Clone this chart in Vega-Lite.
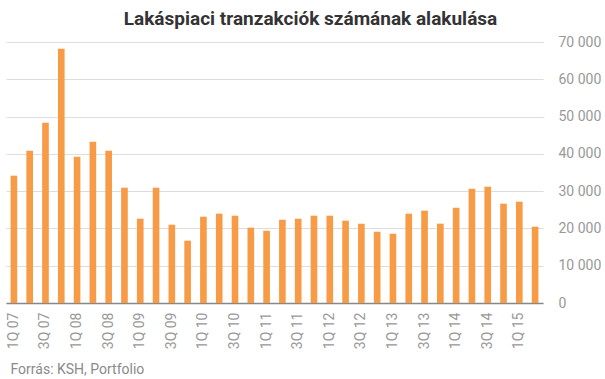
{
  "$schema": "https://vega.github.io/schema/vega-lite/v6.json",
  "width": 537,
  "height": 261,
  "autosize": "none",
  "padding": {"left": 6, "top": 42, "right": 62, "bottom": 76},
  "background": "white",
  "config": {"view": {"stroke": null}, "font": "Roboto"},
  "title": {
    "text": "Lakáspiaci tranzakciók számának alakulása",
    "font": "Roboto",
    "fontSize": 19,
    "fontWeight": "bold",
    "color": "#333333",
    "anchor": "middle",
    "dx": 36,
    "offset": 6
  },
  "data": {
    "values": [
      {"q": "1Q 07", "v": 34150}, {"q": "2Q 07", "v": 40860}, {"q": "3Q 07", "v": 48370}, {"q": "4Q 07", "v": 68200},
      {"q": "1Q 08", "v": 39250}, {"q": "2Q 08", "v": 43270}, {"q": "3Q 08", "v": 40860}, {"q": "4Q 08", "v": 30930},
      {"q": "1Q 09", "v": 22620}, {"q": "2Q 09", "v": 30930}, {"q": "3Q 09", "v": 21000}, {"q": "4Q 09", "v": 16720},
      {"q": "1Q 10", "v": 23150}, {"q": "2Q 10", "v": 23960}, {"q": "3Q 10", "v": 23420}, {"q": "4Q 10", "v": 20200},
      {"q": "1Q 11", "v": 19400}, {"q": "2Q 11", "v": 22350}, {"q": "3Q 11", "v": 22620}, {"q": "4Q 11", "v": 23420},
      {"q": "1Q 12", "v": 23420}, {"q": "2Q 12", "v": 22080}, {"q": "3Q 12", "v": 21280}, {"q": "4Q 12", "v": 19130},
      {"q": "1Q 13", "v": 18600}, {"q": "2Q 13", "v": 23960}, {"q": "3Q 13", "v": 24760}, {"q": "4Q 13", "v": 21280},
      {"q": "1Q 14", "v": 25570}, {"q": "2Q 14", "v": 30660}, {"q": "3Q 14", "v": 31200}, {"q": "4Q 14", "v": 26640},
      {"q": "1Q 15", "v": 27180}, {"q": "2Q 15", "v": 20470}
    ]
  },
  "mark": {"type": "bar", "color": "#f79b47"},
  "encoding": {
    "x": {
      "field": "q",
      "type": "ordinal",
      "sort": null,
      "scale": {"paddingInner": 0.58, "paddingOuter": 0.29},
      "axis": {
        "title": "Forrás: KSH, Portfolio",
        "titleFont": "Roboto",
        "titleFontSize": 14,
        "titleFontWeight": "normal",
        "titleColor": "#8a8a8a",
        "titleAnchor": "start",
        "titleAlign": "left",
        "titleX": 4,
        "titlePadding": 14,
        "labelAngle": -90,
        "labelFont": "Roboto",
        "labelFontSize": 14,
        "labelColor": "#999999",
        "labelPadding": 9,
        "labelExpr": "(indexof(datum.value,'1Q')==0 || indexof(datum.value,'3Q')==0) ? datum.value : ''",
        "ticks": false,
        "domainColor": "#888888",
        "domainWidth": 1.5
      }
    },
    "y": {
      "field": "v",
      "type": "quantitative",
      "scale": {"domain": [0, 70000]},
      "axis": {
        "title": null,
        "orient": "right",
        "values": [0, 10000, 20000, 30000, 40000, 50000, 60000, 70000],
        "labelExpr": "replace(format(datum.value, ','), ',', ' ')",
        "labelFont": "Roboto",
        "labelFontSize": 14,
        "labelColor": "#999999",
        "labelPadding": 15,
        "ticks": false,
        "domain": false,
        "gridColor": "#dddddd",
        "gridWidth": 1
      }
    }
  }
}
